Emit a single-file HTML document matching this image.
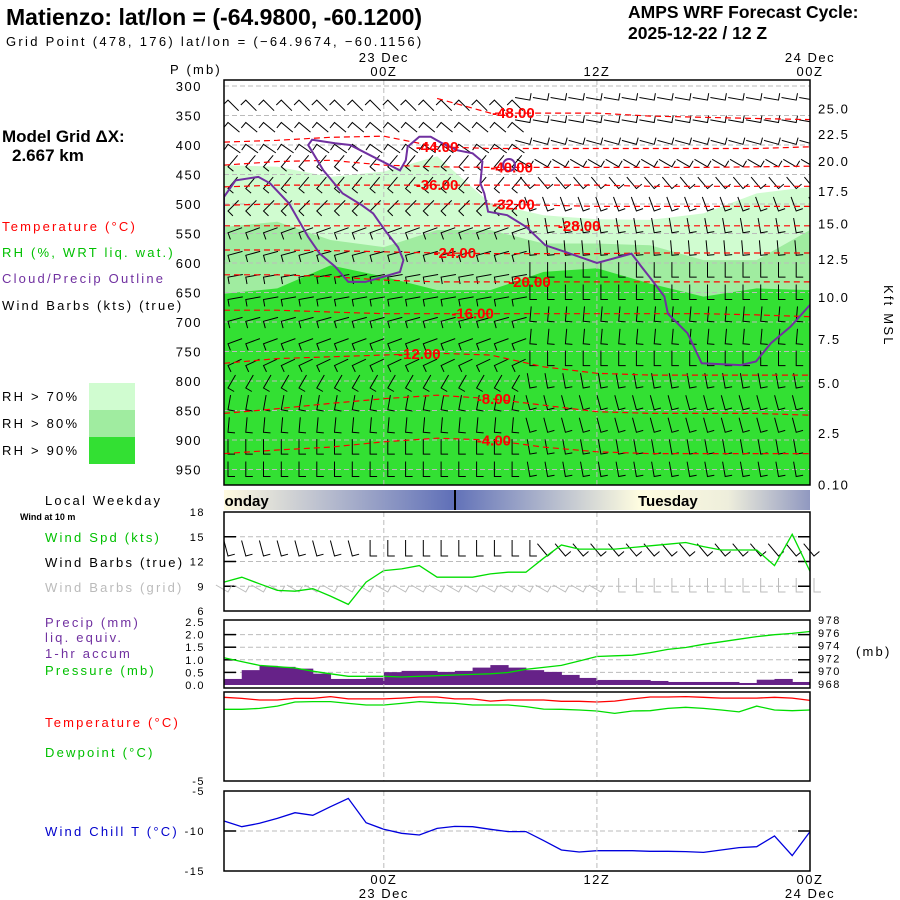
<!DOCTYPE html>
<html><head><meta charset="utf-8"><style>
html,body{margin:0;padding:0;background:#fff;width:900px;height:900px;overflow:hidden}
svg{display:block}
text{font-family:"Liberation Sans",sans-serif}
.s{font-size:13px;letter-spacing:2.2px}
</style></head><body>
<svg id="chart" width="900" height="900" viewBox="0 0 900 900" xmlns="http://www.w3.org/2000/svg">
<text x="6" y="25" font-size="23" font-weight="bold">Matienzo:  lat/lon = (-64.9800, -60.1200)</text>
<text class="s" x="6" y="46" style="letter-spacing:2.3px">Grid Point (478, 176) lat/lon = (−64.9674, −60.1156)</text>
<text x="628" y="18" font-size="17.5" font-weight="bold">AMPS WRF Forecast Cycle:</text>
<text x="628" y="39" font-size="17.5" font-weight="bold">2025-12-22 / 12  Z</text>
<text x="2" y="142" font-size="17" font-weight="bold">Model Grid ΔX:</text>
<text x="12" y="161" font-size="17" font-weight="bold">2.667 km</text>
<text class="s" x="2" y="231" fill="#ff0000">Temperature (°C)</text>
<text class="s" x="2" y="257" fill="#00c000">RH (%, WRT liq. wat.)</text>
<text class="s" x="2" y="283" fill="#7030a0">Cloud/Precip Outline</text>
<text class="s" x="2" y="310">Wind Barbs (kts) (true)</text>
<text class="s" x="2" y="401">RH &gt; 70%</text>
<text class="s" x="2" y="428">RH &gt; 80%</text>
<text class="s" x="2" y="455">RH &gt; 90%</text>
<rect x="89" y="383" width="46" height="27" fill="#d0fcd0"/>
<rect x="89" y="410" width="46" height="27" fill="#a0eca0"/>
<rect x="89" y="437" width="46" height="27" fill="#33e033"/>
<text class="s" x="170" y="74">P (mb)</text>
<text class="s" transform="translate(884,285) rotate(90)">Kft MSL</text>
<text class="s" x="45" y="505">Local Weekday</text>
<text x="20" y="520" font-size="9" font-weight="bold">Wind at 10 m</text>
<text class="s" x="45" y="542" fill="#00c000">Wind Spd (kts)</text>
<text class="s" x="45" y="567">Wind Barbs (true)</text>
<text class="s" x="45" y="592" fill="#bbbbbb">Wind Barbs (grid)</text>
<text class="s" x="45" y="627" fill="#7030a0">Precip (mm)</text>
<text class="s" x="45" y="642" fill="#7030a0">liq. equiv.</text>
<text class="s" x="45" y="658" fill="#7030a0">1-hr accum</text>
<text class="s" x="45" y="675" fill="#00c000">Pressure (mb)</text>
<text class="s" x="856" y="656">(mb)</text>
<text class="s" x="45" y="727" fill="#ff0000">Temperature (°C)</text>
<text class="s" x="45" y="757" fill="#00c000">Dewpoint (°C)</text>
<text class="s" x="45" y="836" fill="#0000cc">Wind Chill T (°C)</text>
<g id="g"></g>
</svg>
<script>
// ---------- data ----------
const hours = [0,1,2,3,4,5,6,7,8,9,10,11,12,13,14,15,16,17,18,19,20,21,22,23,24,25,26,27,28,29,30,31,32,33];
const timeTickHours = [9,21,33];
const timeTickLabels = ['00Z','12Z','00Z'];
const timeTickDates = ['23 Dec','','24 Dec'];
const pLevels = [300,350,400,450,500,550,600,650,700,750,800,850,900,950];
const kftValues = [25.0,22.5,20.0,17.5,15.0,12.5,10.0,7.5,5.0,2.5,0.10];
const kftPressures = [338,381,427,478,533,593,658,729,803,888,975];
const nodeHours = [0,3,6,9,12,15,18,21,24,27,30,33];
const rh70Top = [434,437,454,445,419,499,519,526,527,516,482,471];
const rh80Top = [539,530,561,573,544,544,567,567,570,595,595,544];
const rh90Top = [652,643,604,623,646,646,615,609,635,657,643,646];
const contourTemps = [-48,-44,-40,-36,-32,-28,-24,-20,-16,-12,-8,-4];
const cM48 = [null,null,null,null,321,346,346,346,351,353,355,357];
const cM44 = [395,392,387,385,403,406,406,406,406,406,406,403];
const cM40 = [434,428,426,434,437,438,438,438,438,438,437,436];
const cM36 = [471,468,468,468,468,468,468,468,470,470,470,470];
const cM32 = [502,500,500,500,500,500,502,504,504,504,504,504];
const cM28 = [537,537,537,537,537,537,537,537,537,537,537,537];
const cM24 = [578,578,579,581,583,584,584,584,583,583,583,583];
const cM20 = [620,620,623,629,632,632,632,632,632,632,632,632];
const cM16 = [680,680,683,686,686,686,686,686,686,686,688,691];
const cM12 = [770,762,759,756,753,756,776,787,790,790,790,790];
const cM8 = [855,847,838,830,824,830,841,852,855,855,855,858];
const cM4 = [923,917,912,903,897,900,912,920,923,923,923,923];
const contourLabelHours = [16.3,12,16.2,12,16.3,20,13,17.2,14,11,15.2,15.2];
const cloudHours = [0,0,0.65,1.94,2.59,3.66,4.74,5.39,6.25,7.0,7.97,9.91,10.1,9.8,9.05,8.4,7.76,6.68,5.6,4.74,4.96,6.25,7.1,8.4,9.91,10.24,10.34,11.0,11.64,12.28,13.15,14.0,14.55,14.44,14.66,14.87,15.95,17.03,18.1,19.2,21.0,22.95,23.5,24.1,24.8,25.0,26.1,26.9,29.1,29.96,30.8,31.9,33];
const cloudPress = [595,488,460,454,465,499,556,584,606,632,632,615,595,573,544,516,502,482,443,400,391,397,400,420,443,426,403,386,386,397,409,414,428,465,482,513,519,539,570,581,600,584,606,629,657,686,719,770,773,767,736,708,671];
const barbLevels = [312,350,387,425,462,500,537,575,612,650,687,725,762,800,837,875,912,950];
const barbAngleLeft = [135,130,125,40,40,45,70,75,80,80,75,70,65,30,10,5,0,0];
const barbAngleRight = [-80,-80,-75,-60,-40,-20,-10,-5,0,0,5,5,0,-10,-15,-15,-10,-10];
const windSpd = [9.5,10.1,9.3,8.5,8.4,8.7,7.8,6.8,9.5,10.9,11.1,11.5,10.1,10.1,10.1,10.5,10.7,10.7,12.4,14.0,13.5,13.5,13.5,13.7,13.9,14.1,14.3,13.8,13.4,13.4,13.4,11.5,15.3,10.8];
const windTicks = [18,15,12,9,6];
const precip = [0.24,0.59,0.76,0.72,0.65,0.45,0.24,0.24,0.29,0.51,0.56,0.56,0.52,0.56,0.69,0.79,0.69,0.59,0.52,0.40,0.28,0.20,0.20,0.20,0.16,0.12,0.12,0.12,0.12,0.08,0.21,0.24,0.12];
const precipTicks = [2.5,2.0,1.5,1.0,0.5,0.0];
const pressure = [972.1,971.5,970.9,970.7,970.5,970.0,969.6,969.2,969.2,969.2,969.1,969.2,969.3,969.4,969.5,969.6,969.8,970.3,970.6,970.9,971.6,972.3,972.4,972.5,972.9,973.4,973.7,974.2,974.6,975.0,975.4,975.7,975.9,976.2];
const pressTicks = [978,976,974,972,970,968];
const sfcTemp = [-0.3,-0.36,-0.45,-0.45,-0.36,-0.36,-0.26,-0.39,-0.39,-0.39,-0.34,-0.28,-0.28,-0.39,-0.39,-0.51,-0.45,-0.45,-0.45,-0.52,-0.52,-0.56,-0.51,-0.39,-0.28,-0.28,-0.26,-0.3,-0.34,-0.34,-0.34,-0.3,-0.34,-0.47];
const dewpoint = [-0.97,-0.97,-0.92,-0.79,-0.56,-0.54,-0.54,-0.64,-0.73,-0.73,-0.64,-0.54,-0.6,-0.64,-0.73,-0.73,-0.73,-0.82,-0.96,-0.97,-1.01,-1.07,-1.2,-1.07,-1.05,-0.92,-0.86,-0.92,-1.01,-1.12,-0.79,-1.01,-1.05,-1.01];
const windChill = [-8.75,-9.46,-9.04,-8.42,-7.71,-8.04,-6.96,-5.92,-8.96,-9.79,-10.29,-10.5,-9.67,-9.42,-9.46,-9.79,-10.08,-10.08,-11.2,-12.38,-12.62,-12.46,-12.46,-12.46,-12.54,-12.54,-12.58,-12.67,-12.38,-12.08,-11.96,-10.62,-13.08,-10.08];
const chillTicks = [-5,-10,-15];

// ---------- axes ----------
const X0=224, X1=810;
const xOf = h => X0 + h*(X1-X0)/33;
const pY = p => 86 + (p-300)*29.5/50;
const wY = v => 611 - (v-6)*99/12;
const prY = v => 685 - v*25.2;
const psY = v => 684 - (v-968)*6.4;
const tY = v => 692 - v*89/5;
const cY = v => 791 - (v+5)*8;

const NS='http://www.w3.org/2000/svg';
const g=document.getElementById('g');
function mk(tag,attrs,parent){const e=document.createElementNS(NS,tag);for(const k in attrs)e.setAttribute(k,attrs[k]);(parent||g).appendChild(e);return e;}
function txt(s,x,y,anchor,extra){const e=mk('text',Object.assign({x:x,y:y,'text-anchor':anchor||'start','font-size':13,'letter-spacing':1.5},extra||{}));e.textContent=s;return e;}
function pts(xs,ys){return xs.map((x,i)=>x.toFixed(1)+','+ys[i].toFixed(1)).join(' ');}

const defs=mk('defs',{});
const cp=mk('clipPath',{id:'mainclip'},defs);
mk('rect',{x:X0,y:80,width:X1-X0,height:405},cp);
const gr=mk('linearGradient',{id:'dayband',x1:0,x2:1,y1:0,y2:0},defs);
[['0','#fffbe0'],['0.39','#6070b8'],['0.71','#fffde0'],['0.86','#eeeedc'],['1','#9098c0']].forEach(s=>mk('stop',{offset:s[0],'stop-color':s[1]},gr));

const main=mk('g',{'clip-path':'url(#mainclip)'});


function fillArea(top,color,name){
  const xs=nodeHours.map(xOf), ys=top.map(pY);
  const poly=mk('polygon',{points:X0+',485 '+pts(xs,ys)+' '+X1+',485',fill:color},main);
  
  
}
fillArea(rh70Top,'#d0fcd0','rh70-area');
fillArea(rh80Top,'#a0eca0','rh80-area');
fillArea(rh90Top,'#33e033','rh90-area');

pLevels.forEach(p=>{const l=mk('line',{x1:X0,x2:X1,y1:pY(p),y2:pY(p),stroke:'#bbbbbb','stroke-dasharray':'5,3'},main);

});
timeTickHours.slice(0,2).forEach(h=>{const l=mk('line',{x1:xOf(h),x2:xOf(h),y1:80,y2:485,stroke:'#bbbbbb','stroke-dasharray':'5,3'},main);

});

function barb(parent,x,y,ang,len,fl,color){
  const a=ang*Math.PI/180;
  const x2=x+len*Math.sin(a), y2=y-len*Math.cos(a);
  const fa=a+Math.PI/2;
  const fx=x+fl*Math.sin(fa), fy=y-fl*Math.cos(fa);
  const b=mk('polyline',{points:fx.toFixed(1)+','+fy.toFixed(1)+' '+x.toFixed(1)+','+y.toFixed(1)+' '+x2.toFixed(1)+','+y2.toFixed(1),fill:'none',stroke:color,'stroke-width':1},parent);
  
  
}
const barbG=mk('g',{},main);


barbLevels.forEach((p,i)=>{hours.forEach(h=>{
  const ang = h<17 ? barbAngleLeft[i] : barbAngleRight[i];
  barb(barbG,xOf(h)+4,pY(p)+7,ang,15,7,'#000');
});});

const contourSets=[cM48,cM44,cM40,cM36,cM32,cM28,cM24,cM20,cM16,cM12,cM8,cM4];
contourSets.forEach((arr,ci)=>{
  const xs=[],ys=[];
  arr.forEach((p,i)=>{if(p!==null){xs.push(xOf(nodeHours[i]));ys.push(pY(p));}});
  const l=mk('polyline',{points:pts(xs,ys),fill:'none',stroke:'#ff0000','stroke-width':1.2,'stroke-dasharray':'6,4'},main);
  
  
  const lh=contourLabelHours[ci];
  let k=0; while(k<nodeHours.length-2 && nodeHours[k+1]<lh) k++;
  const p0=arr[k]===null?arr[k+1]:arr[k], p1=arr[k+1];
  const t=(lh-nodeHours[k])/3;
  const lp=p0+(p1-p0)*Math.min(1,Math.max(0,t));
  const lt=txt(contourTemps[ci].toFixed(2),xOf(lh),pY(lp)+5,'middle',{fill:'#ff0000','font-size':15,'font-weight':'bold','letter-spacing':0});
  
  
});

const cl=mk('polyline',{points:pts(cloudHours.map(xOf),cloudPress.map(pY)),fill:'none',stroke:'#7030a0','stroke-width':2},main);


const cc=mk('circle',{cx:xOf(16.05),cy:pY(434),r:6,fill:'none',stroke:'#7030a0','stroke-width':2},main);



const mb=mk('rect',{x:X0,y:80,width:X1-X0,height:405,fill:'none',stroke:'#000','stroke-width':1.5});



pLevels.forEach(p=>{const t=txt(String(p),202,pY(p)+5,'end');

});
kftValues.forEach((v,i)=>{const t=txt(v.toFixed(v<1?2:1),818,pY(kftPressures[i])+5,'start');

});
timeTickHours.forEach((h,i)=>{
  const t=txt(timeTickLabels[i],xOf(h),76,'middle');
  
  
  if(timeTickDates[i]){const d=txt(timeTickDates[i],xOf(h),62,'middle');
  
  }
});

const db=mk('rect',{x:X0,y:490,width:X1-X0,height:20,fill:'url(#dayband)'});


const dl=mk('line',{x1:455,x2:455,y1:490,y2:510,stroke:'#000','stroke-width':2});


const bandClip=mk('clipPath',{id:'bandclip'},defs);
mk('rect',{x:X0,y:488,width:X1-X0,height:24},bandClip);
const bg=mk('g',{'clip-path':'url(#bandclip)'});


const mo=mk('text',{x:212,y:506,'font-size':15,'font-weight':'bold'},bg);mo.textContent='Monday';


const tu=mk('text',{x:638,y:506,'font-size':15,'font-weight':'bold'},bg);tu.textContent='Tuesday';



function panel(y0,y1,name){
  timeTickHours.slice(0,2).forEach(h=>{const l=mk('line',{x1:xOf(h),x2:xOf(h),y1:y0,y2:y1,stroke:'#bbbbbb','stroke-dasharray':'5,3'});
  
  });
  const r=mk('rect',{x:X0,y:y0,width:X1-X0,height:y1-y0,fill:'none',stroke:'#000','stroke-width':1.5});
  
  
}
function hgrid(y,withTicks){
  const l=mk('line',{x1:X0,x2:X1,y1:y,y2:y,stroke:'#bbbbbb','stroke-dasharray':'5,3'});
  
  
  if(withTicks){mk('line',{x1:X0,x2:X0+12,y1:y,y2:y,stroke:'#000','stroke-width':1.5});mk('line',{x1:X1-12,x2:X1,y1:y,y2:y,stroke:'#000','stroke-width':1.5});}
}
windTicks.forEach(v=>{ if(v<18&&v>6) hgrid(wY(v),true);
  const t=txt(String(v),205,wY(v)+4,'end',{'font-size':11});
  
  });
const wg=mk('g',{});


hours.forEach(h=>{
  barb(wg,xOf(h)+4,556,h<18?(h<8?-15:0):-40,16,7,'#000');
  barb(wg,xOf(h)+4,592,h<22?-60:0,14,7,'#bbbbbb');
});
const ws=mk('polyline',{points:pts(hours.map(xOf),windSpd.map(wY)),fill:'none',stroke:'#00dd00','stroke-width':1.3});


panel(512,611,'wind-panel-frame');

precipTicks.forEach((v,i)=>{ if(v>0&&v<2.5) hgrid(prY(v),true);
  const t=txt(v.toFixed(1),205,prY(v)+4,'end',{'font-size':11});
  
  });
pressTicks.forEach(v=>{const t=txt(String(v),818,psY(v)+4,'start',{'font-size':11});
  
  });
precip.forEach((v,i)=>{
  const b=mk('rect',{x:xOf(hours[i]),y:prY(v),width:xOf(hours[i+1])-xOf(hours[i])+0.5,height:685-prY(v),fill:'#662288'});
  
  
});
const pl=mk('polyline',{points:pts(hours.map(xOf),pressure.map(psY)),fill:'none',stroke:'#00dd00','stroke-width':1.3});


panel(620,688,'precip-panel-frame');

const tl=mk('polyline',{points:pts(hours.map(xOf),sfcTemp.map(tY)),fill:'none',stroke:'#ff0000','stroke-width':1.3});


const dw=mk('polyline',{points:pts(hours.map(xOf),dewpoint.map(tY)),fill:'none',stroke:'#00dd00','stroke-width':1.3});


const t5=txt('-5',205,785,'end',{'font-size':11});


panel(692,781,'temp-panel-frame');

chillTicks.forEach(v=>{ if(v===-10) hgrid(cY(v),true);
  const t=txt(String(v),205,cY(v)+4,'end',{'font-size':11});
  
  });
const wc=mk('polyline',{points:pts(hours.map(xOf),windChill.map(cY)),fill:'none',stroke:'#0000dd','stroke-width':1.3});


panel(791,871,'chill-panel-frame');

timeTickHours.forEach((h,i)=>{
  const t=txt(timeTickLabels[i],xOf(h),884,'middle');
  
  
  if(timeTickDates[i]){const d=txt(timeTickDates[i],xOf(h),898,'middle');
  
  }
});
</script>
</body></html>
